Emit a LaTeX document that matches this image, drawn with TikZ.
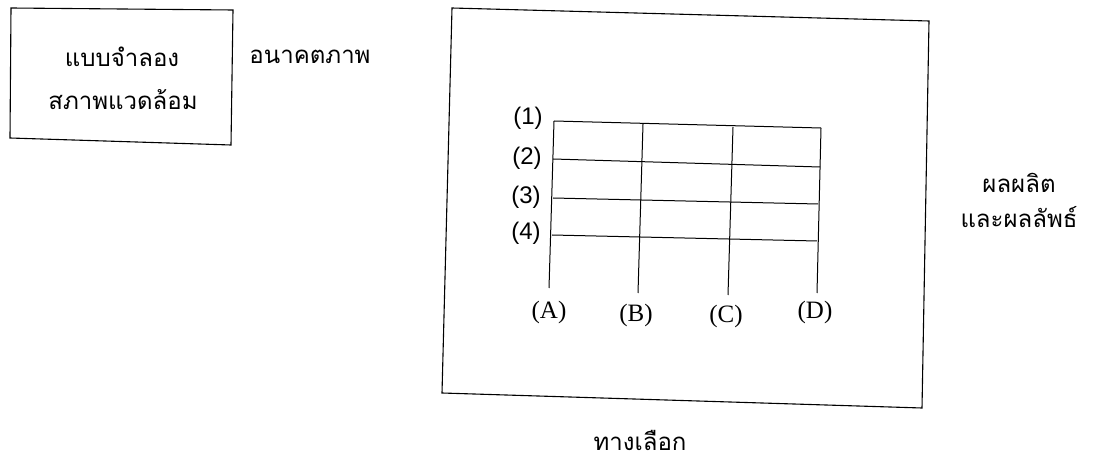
\documentclass[tikz,border=0pt]{standalone}
\usepackage{fontspec}
\newfontfamily\thaifont[Script=Thai]{Loma}
\newfontfamily\numfont{Liberation Sans}
\newfontfamily\letfont{Liberation Serif}
\begin{document}
\begin{tikzpicture}[x=1pt,y=-1pt,
  frame/.style={draw=black,line width=1.1pt},
  gridline/.style={draw=black,line width=1pt},
  thai/.style={font=\thaifont\fontsize{24}{30}\selectfont,inner sep=0pt},
  rowlab/.style={font=\numfont\fontsize{24}{28}\selectfont,inner sep=0pt},
  collab/.style={font=\letfont\fontsize{25}{28}\selectfont,inner sep=0pt}]
\useasboundingbox[fill=white] (0,0) rectangle (1111,462);
% left box
\coordinate (l1) at (11,8);
\coordinate (l2) at (233,10);
\coordinate (l3) at (231,145);
\coordinate (l4) at (10,138);
\draw[frame] (l1) -- (l2) -- (l3) -- (l4) -- cycle;
\node[thai] (m1) at (122,57) {แบบจำลอง};
\node[thai] (m2) at (123,100) {สภาพแวดล้อม};
\node[thai] (fut) at (310,57) {อนาคตภาพ};
% big box
\coordinate (b1) at (452,8);
\coordinate (b2) at (929,21);
\coordinate (b3) at (922,408);
\coordinate (b4) at (442,393);
\draw[frame] (b1) -- (b2) -- (b3) -- (b4) -- cycle;
% grid
\coordinate (At) at (554,121); \coordinate (Ab) at (549,288);
\coordinate (Bt) at (643,124); \coordinate (Bb) at (638,293);
\coordinate (Ct) at (733,127); \coordinate (Cb) at (728,295);
\coordinate (Dt) at (821,128); \coordinate (Db) at (817,293);
\coordinate (r2l) at (553,159); \coordinate (r2r) at (820,167);
\coordinate (r3l) at (553,198); \coordinate (r3r) at (818,204);
\coordinate (r4l) at (552,235); \coordinate (r4r) at (817,241);
\draw[gridline] (At) -- (Ab);
\draw[gridline] (Bt) -- (Bb);
\draw[gridline] (Ct) -- (Cb);
\draw[gridline] (Dt) -- (Db);
\draw[gridline] (At) -- (Dt);
\draw[gridline] (r2l) -- (r2r);
\draw[gridline] (r3l) -- (r3r);
\draw[gridline] (r4l) -- (r4r);
\node[rowlab] (n1) at (528,118) {(1)};
\node[rowlab] (n2) at (527,158) {(2)};
\node[rowlab] (n3) at (526,197) {(3)};
\node[rowlab] (n4) at (526,233) {(4)};
\node[collab] (cA) at (549,312) {(A)};
\node[collab] (cB) at (636,315) {(B)};
\node[collab] (cC) at (726,316) {(C)};
\node[collab] (cD) at (815,312) {(D)};
\node[thai] (o1) at (1019,183) {ผลผลิต};
\node[thai] (o2) at (1019,217) {และผลลัพธ์};
\node[thai] (alt) at (640,440) {ทางเลือก};
\end{tikzpicture}
\end{document}
